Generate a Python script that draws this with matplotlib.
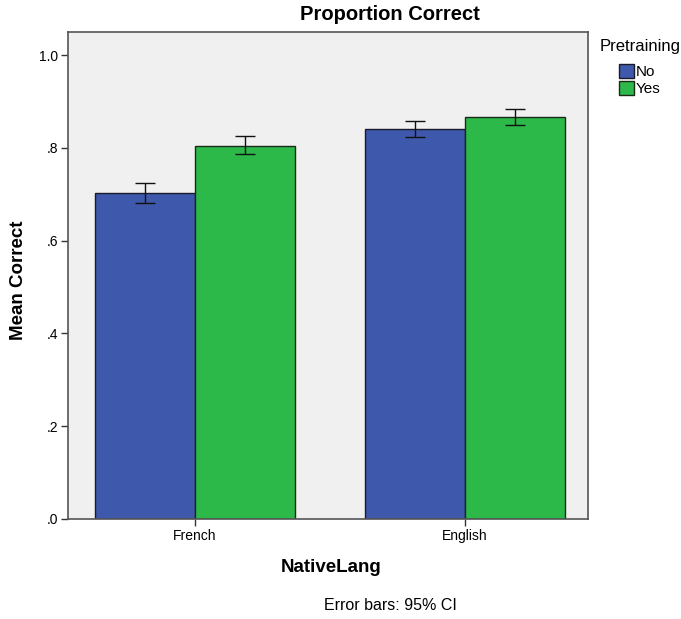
import matplotlib
matplotlib.use("Agg")
import matplotlib.pyplot as plt
import numpy as np
from matplotlib.patches import Patch

plt.rcParams['font.family'] = ['Liberation Sans', 'DejaVu Sans']

categories = ["French", "English"]
groups = ["No", "Yes"]
means_no = [0.703, 0.841]
means_yes = [0.804, 0.866]
lo_no = [0.681, 0.823]
hi_no = [0.724, 0.858]
lo_yes = [0.787, 0.849]
hi_yes = [0.825, 0.884]
yticks = [0.0, 0.2, 0.4, 0.6, 0.8, 1.0]
yticklabels = [".0", ".2", ".4", ".6", ".8", "1.0"]

blue = "#3e58ac"
green = "#2db84a"

fig = plt.figure(figsize=(6.81, 6.19), dpi=100)
ax = fig.add_axes([68/681, 100/619, 520/681, 487/619])
ax.set_facecolor("#f0f0f0")

x = np.arange(len(categories))
w = 0.37
ax.bar(x - w/2, means_no, w, color=blue, edgecolor="#1a1a2a", linewidth=1.0)
ax.bar(x + w/2, means_yes, w, color=green, edgecolor="#1a2a1a", linewidth=1.0)

for xs, m, lo, hi in [(x - w/2, means_no, lo_no, hi_no), (x + w/2, means_yes, lo_yes, hi_yes)]:
    m = np.array(m); lo = np.array(lo); hi = np.array(hi)
    ax.errorbar(xs, m, yerr=[m - lo, hi - m], fmt="none", ecolor="#111111",
                elinewidth=1.0, capsize=7, capthick=1.0)

ax.set_xlim(-0.47, 1.456)
ax.set_ylim(0, 1.05)
ax.set_yticks(yticks)
ax.set_yticklabels(yticklabels, fontsize=10)
ax.set_xticks(x)
ax.set_xticklabels(categories, fontsize=10)
ax.tick_params(axis="both", direction="out", length=5, width=1, color="#333333", pad=2)
for s in ax.spines.values():
    s.set_color("#555555")
    s.set_linewidth(1.2)

fig.text(390/681, 1 - 15/619, "Proportion Correct", ha="center", va="center",
         fontsize=14.5, fontweight="bold")
fig.text(331/681, 1 - 567/619, "NativeLang", ha="center", va="center",
         fontsize=13.5, fontweight="bold")
fig.text(19/681, 1 - 280/619, "Mean Correct", ha="center", va="center",
         fontsize=13.5, fontweight="bold", rotation=90)
fig.text(390/681, 1 - 606/619, "Error bars: 95% CI", ha="center", va="center",
         fontsize=11.5)

fig.text(600/681, 1 - 47/619, "Pretraining", ha="left", va="center", fontsize=12)
handles = [Patch(facecolor=blue, edgecolor="#1a1a2a", label="No"),
           Patch(facecolor=green, edgecolor="#1a2a1a", label="Yes")]
fig.legend(handles=handles, loc="upper left", bbox_to_anchor=(619/681, 1 - 64/619),
           frameon=False, fontsize=11, handlelength=0.95, handleheight=1.0,
           handletextpad=0.12, labelspacing=0.15, borderpad=0, borderaxespad=0)

fig.savefig("out.png", dpi=100)
